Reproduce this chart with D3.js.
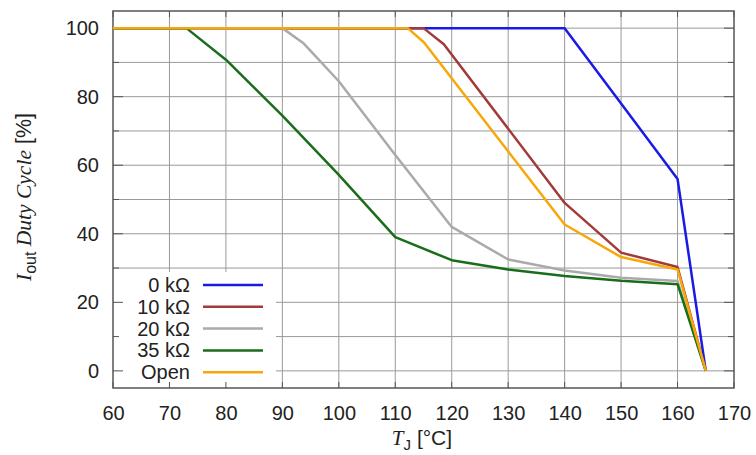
<!DOCTYPE html>
<html><head><meta charset="utf-8">
<script src="https://cdn.jsdelivr.net/npm/d3@7"></script>
<style>
html,body{margin:0;padding:0;background:#fff;}
svg text{font-family:"Liberation Sans",Arial,sans-serif;}
</style></head>
<body>
<svg id="c" width="756" height="455"></svg>
<script>
const xTicks = [60,70,80,90,100,110,120,130,140,150,160,170];
const yTicks = [0,20,40,60,80,100];
const yGrid = [0,10,20,30,40,50,60,70,80,90,100];
const seriesNames = ["0 kΩ","10 kΩ","20 kΩ","35 kΩ","Open"];
const seriesColors = ["#1a1ae6","#a33a3a","#aaaaaa","#1a6e1a","#f7a70a"];
const s0x = [60,140,150,160,165];
const s0y = [100,100,78,56,0];
const s10x = [60,115,118.6,140,150,160,165];
const s10y = [100,100,95.3,49,34.5,30.3,0];
const s20x = [60,90,93.8,100,110,120,130,140,150,160,165];
const s20y = [100,100,95.5,84.5,63,42,32.5,29.3,27.2,26.2,0];
const s35x = [60,73,80,90,100,110,120,130,140,150,160,165];
const s35y = [100,100,90.8,74.5,57.2,39,32.3,29.6,27.7,26.3,25.3,0];
const sOx = [60,112.2,115.1,140,150,160,165];
const sOy = [100,100,95.8,42.7,33.2,29.6,0];

const seriesX = [s0x,s10x,s20x,s35x,sOx];
const seriesY = [s0y,s10y,s20y,s35y,sOy];

const svg = d3.select("#c");
const L=113, R=734, T=11, B=388;
const x = d3.scaleLinear().domain([60,170]).range([L,R]);
const y = d3.scaleLinear().domain([-5,105]).range([B,T]);
const FS = 20;

// grid
const g = svg.append("g");
g.selectAll(".vg").data(xTicks.slice(1,-1)).enter().append("line")
 .attr("x1",d=>x(d)).attr("x2",d=>x(d)).attr("y1",T).attr("y2",B)
 .attr("stroke","#9a9a9a").attr("stroke-width",1);
g.selectAll(".hg").data(yGrid).enter().append("line")
 .attr("x1",L).attr("x2",R).attr("y1",d=>y(d)).attr("y2",d=>y(d))
 .attr("stroke","#9a9a9a").attr("stroke-width",1);

// legend background
svg.append("rect").attr("x",L+1).attr("y",272).attr("width",162).attr("height",B-272-1).attr("fill","#fff");

// ticks (inward)
const tk = svg.append("g").attr("stroke","#555").attr("stroke-width",1);
yGrid.forEach(v=>{
  const len = (v%20===0)?10:6;
  tk.append("line").attr("x1",L).attr("x2",L+len).attr("y1",y(v)).attr("y2",y(v));
  tk.append("line").attr("x1",R).attr("x2",R-len).attr("y1",y(v)).attr("y2",y(v));
});
xTicks.forEach(v=>{
  tk.append("line").attr("x1",x(v)).attr("x2",x(v)).attr("y1",B).attr("y2",B-6);
  tk.append("line").attr("x1",x(v)).attr("x2",x(v)).attr("y1",T).attr("y2",T+6);
});

// border
svg.append("rect").attr("x",L).attr("y",T).attr("width",R-L).attr("height",B-T)
 .attr("fill","none").attr("stroke","#555").attr("stroke-width",1.5);

// axes labels (ticks via d3 axes, lines hidden)
const xAxis = svg.append("g").attr("transform",`translate(0,${B})`)
 .call(d3.axisBottom(x).tickValues(xTicks).tickSize(0).tickPadding(18).tickFormat(d3.format("d")));
xAxis.select(".domain").remove();
xAxis.selectAll("text").attr("font-size",FS).attr("fill","#222").attr("font-family","Liberation Sans, Arial, sans-serif");
const yAxis = svg.append("g").attr("transform",`translate(${L},0)`)
 .call(d3.axisLeft(y).tickValues(yTicks).tickSize(0).tickPadding(14).tickFormat(d3.format("d")));
yAxis.select(".domain").remove();
yAxis.selectAll("text").attr("font-size",FS).attr("fill","#222").attr("font-family","Liberation Sans, Arial, sans-serif");

// lines
const line = d3.line().x(d=>x(d[0])).y(d=>y(d[1]));
seriesX.forEach((xs,i)=>{
  const pts = xs.map((xv,j)=>[xv,seriesY[i][j]]);
  svg.append("path").datum(pts).attr("d",line).attr("fill","none")
   .attr("stroke",seriesColors[i]).attr("stroke-width",2.5).attr("stroke-linejoin","round");
});

// legend
const lg = svg.append("g");
seriesNames.forEach((n,i)=>{
  const yy = 285 + i*21.8;
  lg.append("text").attr("x",190).attr("y",yy).attr("dy","0.35em").attr("text-anchor","end")
   .attr("font-size",FS).attr("fill","#222").text(n);
  lg.append("line").attr("x1",203).attr("x2",263).attr("y1",yy).attr("y2",yy)
   .attr("stroke",seriesColors[i]).attr("stroke-width",2.5);
});

// x label
const xl = svg.append("text").attr("x",422).attr("y",445).attr("text-anchor","middle").attr("font-size",21).attr("fill","#222");
xl.append("tspan").attr("font-family","Liberation Serif, Times New Roman, serif").attr("font-style","italic").text("T");
xl.append("tspan").attr("font-size",15).attr("dy",5).text("J");
xl.append("tspan").attr("dy",-5).text(" [°C]");

// y label
const yl = svg.append("text").attr("transform","translate(31,197) rotate(-90)").attr("text-anchor","middle").attr("font-size",21.5).attr("fill","#222");
yl.append("tspan").attr("font-family","Liberation Serif, Times New Roman, serif").attr("font-style","italic").text("I");
yl.append("tspan").attr("font-size",16).attr("dy",5).text("out");
yl.append("tspan").attr("dy",-5).attr("font-family","Liberation Serif, Times New Roman, serif").attr("font-style","italic").text(" Duty Cycle");
yl.append("tspan").text(" [%]");
</script>
</body></html>
